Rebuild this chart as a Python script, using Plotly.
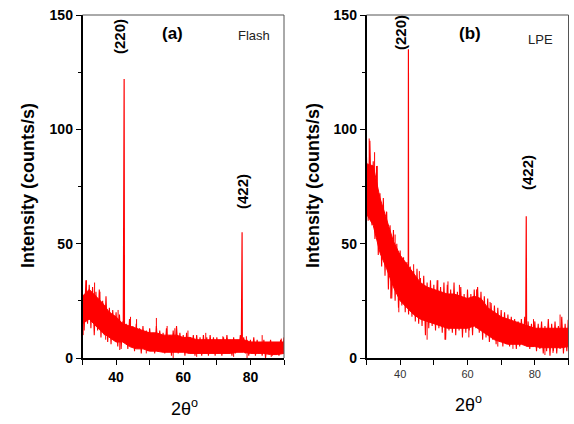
import plotly.graph_objects as go

W, H = 574, 424

# ---------------- data ----------------
# upper noise excursions at integer 2theta (30..90) and lower excursions at half-integers (30.5..89.5)
hi_x = list(range(30, 91))
lo_x = [v + 0.5 for v in range(30, 90)]
# dense core of the noise band, every 2 degrees
core_x = list(range(30, 91, 2))

flash_hi = [28, 34, 32, 31, 29, 30, 25, 27, 22, 21, 20, 19, 16, 15, 17, 14, 15, 13, 14, 12,
            13, 11, 14, 12, 11, 13, 10, 12, 14, 11, 10, 11, 9, 10, 10, 9, 10, 9, 10, 9,
            9, 8, 9, 10, 8, 9, 8, 10, 9, 8, 8, 9, 8, 7, 8, 7, 8, 7, 7, 8, 9]
flash_lo = [12, 15, 13, 10, 12, 9, 10, 7, 6, 8, 5, 4, 8, 4, 6, 3, 5, 2, 4, 3,
            4, 2, 3, 4, 2, 3, 1, 3, 2, 3, 1, 2, 3, 1, 2, 1, 2, 1, 3, 1,
            2, 1, 2, 3, 1, 2, 3, 4, 2, 1, 2, 1, 2, 1, 0, 2, 1, 2, 1, 2]
flash_core_hi = [27, 30, 27, 24, 20, 18, 15, 14, 13, 12, 11, 11, 10, 10, 10, 9,
                 9, 8, 8, 8, 8, 8, 8, 8, 8, 7, 7, 7, 7, 7, 7]
flash_core_lo = [15, 17, 14, 11, 9, 7, 7, 5, 4, 4, 3, 3, 2.5, 2.5, 2.5, 2.5,
                 2, 2, 2, 2, 2, 2, 2, 2.5, 2.5, 2, 2, 2, 1.5, 1.5, 2]
flash_peak_x = [42.15, 42.25, 42.32, 42.4, 42.5, None, 77.3, 77.38, 77.45, 77.52, 77.6]
flash_peak_y = [15, 77, 18, 122, 13, None, 8, 48, 10, 55, 8]
# isolated noise spikes: position, value inside the band, spike tip
flash_spike_x = [30.2, 31.2, 33.6, 35.2, 36.9, 38.2, 40.6, 41.1, 44.3, 46.1, 49.0, 52.0, 55.2,
                 57.0, 57.5, 61.4, 64.0, 66.7, 71.8, 75.0, 78.8, 79.0, 83.5, 86.2, 89.2]
flash_spike_base = [20, 25, 22, 20, 17, 14, 12, 10, 10, 9, 8, 8, 7, 6, 7, 6, 5, 5, 5, 5, 5, 5, 4, 4, 4]
flash_spike_tip = [10, 34, 33, 29, 8, 20, 21, 3.5, 18, 17, 2, 17.5, 14, 0, 13, 12, 0.5, 11, 9.5, 0.5,
                   9.5, 0, 10, 0.5, 8.5]

lpe_hi = [88, 95, 86, 84, 72, 70, 64, 58, 56, 50, 47, 44, 42, 40, 38, 39, 35, 36, 33, 34,
          32, 34, 31, 33, 32, 30, 33, 29, 31, 28, 30, 28, 30, 31, 29, 27, 26, 24, 23, 22,
          21, 20, 19, 18, 17, 16, 17, 18, 16, 15, 16, 15, 16, 14, 17, 15, 16, 14, 18, 15, 17]
lpe_lo = [60, 62, 52, 45, 40, 36, 30, 26, 25, 22, 23, 20, 19, 18, 16, 15, 14, 10, 13, 14,
          12, 13, 11, 8, 12, 11, 10, 12, 9, 11, 12, 10, 13, 11, 8, 9, 7, 8, 6, 7,
          5, 6, 5, 6, 4, 5, 6, 5, 4, 5, 3, 4, 2, 3, 1, 3, 2, 4, 2, 3]
lpe_core_hi = [85, 84, 70, 60, 51, 45, 41, 37, 33, 31, 30, 29, 28, 28, 27, 26,
               27, 26, 22, 20, 18, 17, 16, 15, 14, 13, 13, 13, 13, 13, 13]
lpe_core_lo = [63, 58, 46, 39, 31, 25, 22, 19, 17, 16, 15, 14, 13, 13, 13, 13,
               14, 12, 10, 8, 7, 6, 6, 6, 5, 5, 4.5, 4.5, 4.5, 4.5, 5]
lpe_peak_x = [42.4, 42.45, 42.5, None, 77.3, 77.38, 77.45, 77.55]
lpe_peak_y = [40, 135, 36, None, 15, 34, 62, 14]
lpe_spike_x = [30.8, 31.6, 32.4, 33.2, 35.9, 37.2, 38.5, 39.6, 44.0, 45.7, 48.0, 51.2, 53.3,
               54.2, 57.6, 60.4, 62.7, 66.7, 69.0, 73.5, 79.6, 83.0, 85.4, 87.5, 89.9]
lpe_spike_base = [78, 75, 70, 62, 50, 42, 38, 34, 28, 26, 24, 22, 21, 21, 20, 19, 20, 16, 14, 11,
                  10, 9, 9, 9, 9]
lpe_spike_tip = [96, 58, 90, 84, 64, 26, 54, 20, 41, 38, 8, 34, 8, 33.5, 32, 9, 30, 24.5, 5, 4,
                 17, 1.3, 2.2, 19, 16.6]

x_tickvals = [30, 40, 50, 60, 70, 80, 90]
x_ticktext = ["", "40", "", "60", "", "80", ""]
y_tickvals = [0, 50, 100, 150]
y_ticktext = ["0", "50", "100", "150"]


def band(hx, hy, lx, ly):
    xs = list(hx) + list(reversed(lx))
    ys = list(hy) + list(reversed(ly))
    xs.append(hx[0]); ys.append(hy[0])
    return xs, ys


def meander(hx, hy, lx, ly):
    xs, ys = [], []
    for i in range(len(hx)):
        xs.append(hx[i]); ys.append(hy[i])
        if i < len(lx):
            xs.append(lx[i]); ys.append(ly[i])
    return xs, ys


def spikes(sx, sb, st):
    xs, ys = [], []
    for x, b, t in zip(sx, sb, st):
        xs += [x, x, None]
        ys += [b, t, None]
    return xs, ys


def px(x):
    return x / W


def py(y):
    return 1 - y / H


RED = "#ff0000"
FONT = "Arial, Liberation Sans, sans-serif"

fig = go.Figure()
for (hy, ly, chy, cly, pkx, pky, sx, sb, st, xa, ya) in [
        (flash_hi, flash_lo, flash_core_hi, flash_core_lo, flash_peak_x, flash_peak_y,
         flash_spike_x, flash_spike_base, flash_spike_tip, "x", "y"),
        (lpe_hi, lpe_lo, lpe_core_hi, lpe_core_lo, lpe_peak_x, lpe_peak_y,
         lpe_spike_x, lpe_spike_base, lpe_spike_tip, "x2", "y2")]:
    fx, fy = band(core_x, chy, core_x, cly)
    fig.add_trace(go.Scatter(x=fx, y=fy, mode="lines", fill="toself", fillcolor=RED,
                             line=dict(color=RED, width=1), xaxis=xa, yaxis=ya,
                             showlegend=False, hoverinfo="skip"))
    mx, my = meander(hi_x, hy, lo_x, ly)
    fig.add_trace(go.Scatter(x=mx, y=my, mode="lines", line=dict(color=RED, width=1.1),
                             xaxis=xa, yaxis=ya, showlegend=False, hoverinfo="skip"))
    spx, spy = spikes(sx, sb, st)
    fig.add_trace(go.Scatter(x=spx, y=spy, mode="lines", line=dict(color=RED, width=1),
                             xaxis=xa, yaxis=ya, showlegend=False, hoverinfo="skip", connectgaps=False))
    fig.add_trace(go.Scatter(x=pkx, y=pky, mode="lines", line=dict(color=RED, width=1.2),
                             xaxis=xa, yaxis=ya, showlegend=False, connectgaps=False))

ydom = [66 / H, 409 / H]
common_x = dict(range=[30, 90], showgrid=False, zeroline=False, showline=True, linecolor="black",
                linewidth=1.5, ticks="outside", ticklen=5, tickwidth=1, tickcolor="black",
                tickvals=x_tickvals, ticktext=x_ticktext, automargin=False)
common_y = dict(range=[0, 150], showgrid=False, zeroline=False, showline=True, linecolor="black",
                linewidth=1.5, ticks="outside", ticklen=5, tickwidth=1, tickcolor="black",
                tickvals=y_tickvals, ticktext=y_ticktext, automargin=False,
                minor=dict(tickvals=[25, 75, 125], ticks="outside", ticklen=3, tickcolor="black"),
                tickfont=dict(family=FONT, size=14, color="black", weight="bold"))

fig.update_layout(
    width=W, height=H, margin=dict(l=0, r=0, t=0, b=0, autoexpand=False),
    paper_bgcolor="white", plot_bgcolor="white",
    xaxis=dict(domain=[82.5 / W, 284 / W], anchor="y", **common_x,
               tickfont=dict(family=FONT, size=14, color="black", weight="bold")),
    yaxis=dict(domain=ydom, anchor="x", **common_y),
    xaxis2=dict(domain=[366.5 / W, 568.5 / W], anchor="y2", **common_x,
                tickfont=dict(family=FONT, size=11, color="#333333")),
    yaxis2=dict(domain=ydom, anchor="x2", **common_y),
)

shapes = []
for (l, r) in [(82.5, 284), (366.5, 568.5)]:
    shapes.append(dict(type="line", xref="paper", yref="paper", x0=px(l), x1=px(r), y0=py(15), y1=py(15),
                       line=dict(color="#555555", width=1)))
    shapes.append(dict(type="line", xref="paper", yref="paper", x0=px(r), x1=px(r), y0=py(15), y1=py(358),
                       line=dict(color="#555555", width=1)))
fig.update_layout(shapes=shapes)


def ann(text, x, y, size, bold=False, angle=0, color="black"):
    fig.add_annotation(text=text, x=px(x), y=py(y), xref="paper", yref="paper", showarrow=False,
                       textangle=angle, xanchor="center", yanchor="middle",
                       font=dict(family=FONT, size=size, color=color, weight="bold" if bold else "normal"))


ann("Intensity (counts/s)", 28, 186, 18, bold=True, angle=-90)
ann("Intensity (counts/s)", 313, 186, 18, bold=True, angle=-90)
ann("2θ<sup>o</sup>", 184, 407, 18)
ann("2θ<sup>o</sup>", 468, 403, 18)
ann("(220)", 119, 37, 15, bold=True, angle=-90)
ann("(220)", 400, 33, 15, bold=True, angle=-90)
ann("(422)", 242, 192, 15, bold=True, angle=-90)
ann("(422)", 528, 173, 15, bold=True, angle=-90)
ann("(a)", 172, 33, 17, bold=True)
ann("(b)", 470, 33, 17, bold=True)
ann("Flash", 254, 36, 13, color="#222222")
ann("LPE", 540, 40, 13, color="#222222")

fig.write_html("out.html", config={"displayModeBar": False},
               post_script="document.body.style.margin='0px';document.body.style.overflow='hidden';")
